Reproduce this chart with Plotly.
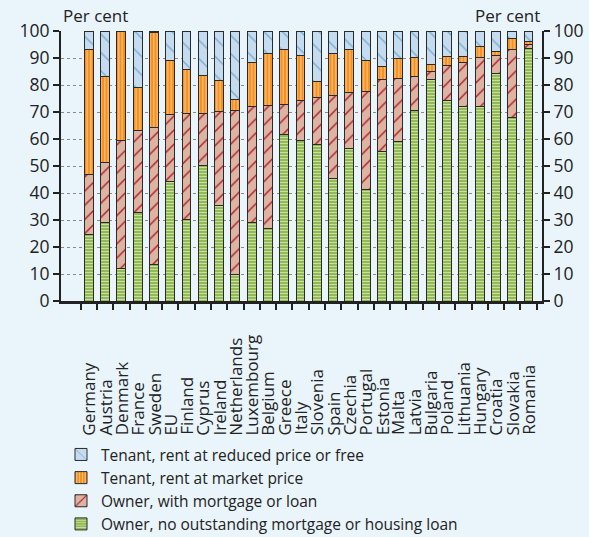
import plotly.graph_objects as go

countries = ["Germany", "Austria", "Denmark", "France", "Sweden", "EU", "Finland", "Cyprus",
             "Ireland", "Netherlands", "Luxembourg", "Belgium", "Greece", "Italy", "Slovenia",
             "Spain", "Czechia", "Portugal", "Estonia", "Malta", "Latvia", "Bulgaria", "Poland",
             "Lithuania", "Hungary", "Croatia", "Slovakia", "Romania"]

# cumulative read-offs converted to segment shares (per cent)
owner_outright = [24.7, 29.1, 12.1, 32.8, 13.6, 44.3, 30.2, 50.1, 35.4, 10.0, 29.1, 26.9, 61.7, 59.6,
                  58.0, 45.4, 56.5, 41.4, 55.2, 59.0, 70.5, 82.2, 74.3, 72.2, 72.2, 84.3, 68.1, 93.5]
owner_mortgage = [22.0, 22.3, 47.5, 30.5, 50.7, 24.8, 39.3, 19.4, 34.8, 60.5, 43.1, 45.6, 11.1, 14.5,
                  17.3, 30.8, 20.8, 36.3, 26.9, 23.3, 12.7, 2.7, 13.0, 16.3, 17.9, 6.6, 24.9, 1.4]
tenant_market = [46.6, 31.7, 40.4, 15.7, 35.2, 20.0, 16.2, 14.1, 11.5, 4.1, 16.3, 19.1, 20.5, 16.8,
                 5.9, 15.4, 16.0, 11.4, 4.9, 7.6, 7.0, 2.6, 3.3, 2.2, 4.2, 1.4, 4.2, 1.3]
tenant_reduced = [round(100 - a - b - c, 1) for a, b, c in zip(owner_outright, owner_mortgage, tenant_market)]

series = [
    ("Owner, no outstanding mortgage or housing loan", owner_outright, "#7fad3f", "#c9df9c", "-", 3, 0.5),
    ("Owner, with mortgage or loan", owner_mortgage, "#dfb3a1", "#a91d2b", "/", 10, 0.14),
    ("Tenant, rent at market price", tenant_market, "#f78f1c", "#ffcb93", "|", 3.5, 0.3),
    ("Tenant, rent at reduced price or free", tenant_reduced, "#c5dcf0", "#74a9cc", "\\", 13, 0.1),
]

BG = "#e9f4fb"
FONT = "Open Sans"
TXT = "#222222"

fig = go.Figure()
for name, vals, bg, fg, shape, size, sol in series:
    fig.add_trace(go.Bar(
        x=countries, y=vals, name=name,
        marker=dict(color=bg, line=dict(color="#2a2a2a", width=1),
                    pattern=dict(shape=shape, bgcolor=bg, fgcolor=fg, size=size,
                                 solidity=sol, fillmode="replace")),
    ))

# invisible trace so the right-hand axis is drawn
fig.add_trace(go.Scatter(x=[countries[0]], y=[None], yaxis="y2", showlegend=False,
                         hoverinfo="skip", mode="markers"))

for c in countries:
    fig.add_annotation(x=c, xref="x", y=-0.505, yref="paper", text=c, textangle=-90,
                       showarrow=False, xanchor="center", yanchor="bottom",
                       font=dict(family=FONT, size=17, color=TXT))

fig.add_annotation(x=0.0, xref="paper", y=1.0, yref="paper", yshift=2, text="Per cent",
                   showarrow=False, xanchor="left", yanchor="bottom",
                   font=dict(family=FONT, size=17, color=TXT))
fig.add_annotation(x=1.0, xref="paper", y=1.0, yref="paper", yshift=2, text="Per cent",
                   showarrow=False, xanchor="right", yanchor="bottom",
                   font=dict(family=FONT, size=17, color=TXT))

axis_common = dict(range=[0, 100], dtick=10, tick0=0, ticks="outside", ticklen=6, tickwidth=2,
                   tickcolor=TXT, showline=True, linewidth=2, linecolor=TXT,
                   tickfont=dict(family=FONT, size=17.5, color=TXT), zeroline=False)

fig.update_layout(
    width=589, height=537,
    barmode="stack", bargap=0.45,
    paper_bgcolor=BG, plot_bgcolor=BG,
    margin=dict(l=61, r=47, t=31, b=236, autoexpand=False),
    font=dict(family=FONT, size=16, color=TXT),
    xaxis=dict(showticklabels=False, ticks="outside", tickson="boundaries", ticklen=6,
               tickwidth=2, tickcolor=TXT, showline=True, linewidth=2.5,
               linecolor=TXT, showgrid=False),
    yaxis=dict(**axis_common, side="left", showgrid=True, gridcolor="#8a8a8a",
               griddash="dot", gridwidth=1),
    yaxis2=dict(**axis_common, side="right", overlaying="y", showgrid=False),
    legend=dict(orientation="v", traceorder="reversed", x=0.0, xanchor="left",
                y=-0.507, yanchor="top", bgcolor="rgba(0,0,0,0)",
                font=dict(family=FONT, size=15.5, color=TXT),
                tracegroupgap=0, itemwidth=30),
    showlegend=True,
)

fig.write_html("out.html", config={"displayModeBar": False},
               post_script="document.body.style.margin='0';document.body.style.background='" + BG + "';")
